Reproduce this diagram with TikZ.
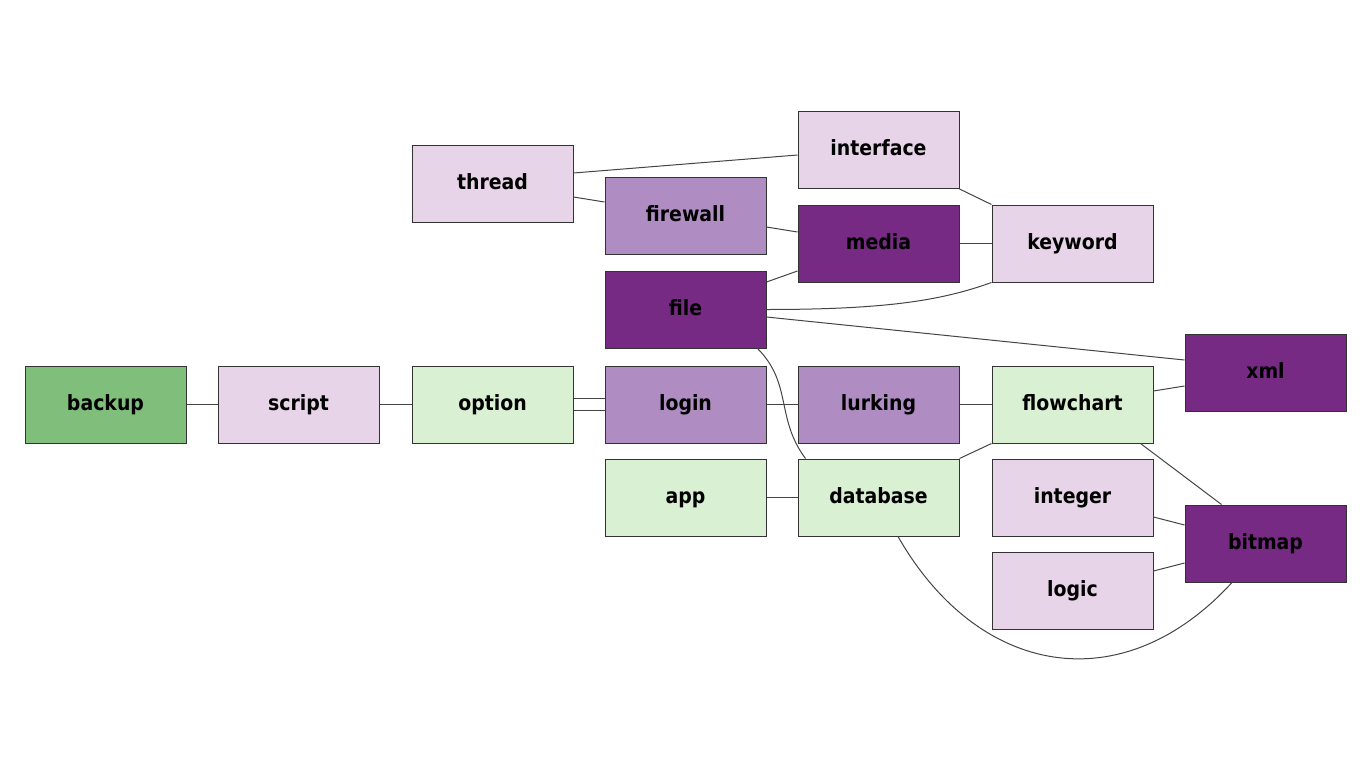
\documentclass[tikz,border=0pt]{standalone}
\usepackage{fontspec}
\newfontfamily\labfont{DejaVu Sans Condensed}
\definecolor{dpurple}{HTML}{762A83}
\definecolor{mpurple}{HTML}{AF8DC3}
\definecolor{lpurple}{HTML}{E7D4E8}
\definecolor{lgreen}{HTML}{D9F0D3}
\definecolor{mgreen}{HTML}{7FBF7B}
\definecolor{bordercol}{HTML}{333333}
\definecolor{edgecol}{HTML}{444444}
\tikzset{
  box/.style={draw=bordercol, line width=1pt, minimum width=161pt, minimum height=77pt,
    inner sep=0pt, text height=16pt, text depth=5pt,
    font=\labfont\bfseries\fontsize{21}{24}\selectfont, text=black},
  dp/.style={box, fill=dpurple},
  mp/.style={box, fill=mpurple},
  lp/.style={box, fill=lpurple},
  lg/.style={box, fill=lgreen},
  mg/.style={box, fill=mgreen},
  edge/.style={draw=edgecol, line width=1pt}
}
\begin{document}
\begin{tikzpicture}[x=1pt,y=-1pt]
\useasboundingbox (0,0) rectangle (1372,771);
\node[mg] (backup) at (105.5,404.5) {backup};
\node[lp] (script) at (298.5,404.5) {script};
\node[lg] (option) at (492.5,404.5) {option};
\node[mp] (login) at (685.5,404.5) {login};
\node[mp] (lurking) at (878.5,404.5) {lurking};
\node[lg] (flowchart) at (1072.5,404.5) {flowchart};
\node[dp] (xml) at (1265.5,373) {xml};
\node[lp] (thread) at (492.5,183.5) {thread};
\node[lp] (interface) at (878.5,150) {interface};
\node[mp] (firewall) at (685.5,216) {firewall};
\node[dp] (media) at (878.5,243.5) {media};
\node[lp] (keyword) at (1072.5,243.5) {keyword};
\node[dp] (file) at (685.5,309.5) {file};
\node[lg] (app) at (685.5,497.5) {app};
\node[lg] (database) at (878.5,497.5) {database};
\node[lp] (integer) at (1072.5,497.5) {integer};
\node[lp] (logic) at (1072.5,590.5) {logic};
\node[dp] (bitmap) at (1265.5,543.5) {bitmap};

\draw[edge] (backup.east) -- (script.west);
\draw[edge] (script.east) -- (option.west);
\draw[edge] ([yshift=6pt]option.east) -- ([yshift=6pt]login.west);
\draw[edge] ([yshift=-6pt]option.east) -- ([yshift=-6pt]login.west);
\draw[edge] (login.east) -- (lurking.west);
\draw[edge] (lurking.east) -- (flowchart.west);
\draw[edge] ([yshift=13.5pt]flowchart.east) -- ([yshift=-13pt]xml.west);
\draw[edge] ([yshift=10.5pt]thread.east) -- ([yshift=-5pt]interface.west);
\draw[edge] ([yshift=-13.5pt]thread.east) -- ([yshift=14pt]firewall.west);
\draw[edge] ([yshift=-11pt]firewall.east) -- ([yshift=11.5pt]media.west);
\draw[edge] (interface.south east) -- (keyword.north west);
\draw[edge] (media.east) -- (keyword.west);
\draw[edge] ([yshift=27.5pt]file.east) -- ([yshift=-27.5pt]media.west);
\draw[edge] (file.east) .. controls +(120,0) and +(-50,18) .. (keyword.south west);
\draw[edge] ([yshift=-7.5pt]file.east) -- ([yshift=13pt]xml.west);
\draw[edge] ([xshift=-9pt]file.south east) .. controls +(35,35) and +(-30,-40) .. ([xshift=8pt]database.north west);
\draw[edge] (app.east) -- (database.west);
\draw[edge] (database.north east) -- (flowchart.south west);
\draw[edge] ([xshift=-13pt]flowchart.south east) -- ([xshift=37pt]bitmap.north west);
\draw[edge] ([yshift=-19.5pt]integer.east) -- ([yshift=18.5pt]bitmap.west);
\draw[edge] ([yshift=19.5pt]logic.east) -- ([yshift=-19.5pt]bitmap.west);
\draw[edge] ([xshift=19.5pt]database.south) .. controls +(80,140) and +(-110,120) .. ([xshift=-33.5pt]bitmap.south);
\end{tikzpicture}
\end{document}
